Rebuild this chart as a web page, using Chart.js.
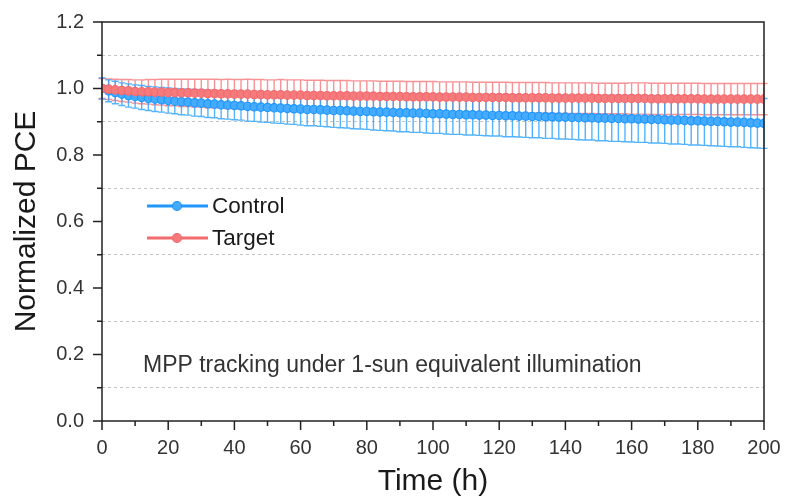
<!DOCTYPE html>
<html>
<head>
<meta charset="utf-8">
<script src="https://cdn.jsdelivr.net/npm/chart.js@4"></script>
<style>
  html, body { margin: 0; padding: 0; background: #fff; }
  #wrap { width: 787px; height: 501px; }
</style>
</head>
<body>
<div id="wrap"><canvas id="c" width="787" height="501"></canvas></div>
<script>
// MPP tracking, normalized PCE vs time — Control vs Target, with error bars.
const TIME = [];
for (let t = 0; t <= 200; t += 2) TIME.push(t);

const CONTROL = [
  1.000, 0.993, 0.988, 0.983, 0.979, 0.976, 0.973, 0.970, 0.968, 0.966,
  0.964, 0.962, 0.960, 0.959, 0.957, 0.956, 0.954, 0.953, 0.951, 0.950,
  0.949, 0.948, 0.946, 0.945, 0.944, 0.943, 0.942, 0.941, 0.940, 0.939,
  0.938, 0.937, 0.937, 0.936, 0.935, 0.934, 0.934, 0.933, 0.932, 0.931,
  0.931, 0.930, 0.929, 0.929, 0.928, 0.927, 0.927, 0.926, 0.926, 0.925,
  0.924, 0.924, 0.923, 0.922, 0.922, 0.921, 0.921, 0.920, 0.920, 0.919,
  0.919, 0.918, 0.918, 0.917, 0.917, 0.916, 0.916, 0.915, 0.915, 0.914,
  0.914, 0.913, 0.913, 0.912, 0.912, 0.911, 0.911, 0.910, 0.910, 0.909,
  0.909, 0.908, 0.908, 0.907, 0.907, 0.906, 0.905, 0.905, 0.904, 0.903,
  0.903, 0.902, 0.901, 0.901, 0.900, 0.899, 0.899, 0.898, 0.897, 0.896,
  0.895
];
const CONTROL_ERR = [
  0.032, 0.033, 0.034, 0.034, 0.035, 0.035, 0.036, 0.036, 0.037, 0.037,
  0.038, 0.038, 0.039, 0.039, 0.040, 0.040, 0.041, 0.041, 0.042, 0.042,
  0.043, 0.043, 0.044, 0.044, 0.045, 0.045, 0.046, 0.046, 0.047, 0.047,
  0.048, 0.049, 0.049, 0.050, 0.050, 0.051, 0.052, 0.052, 0.053, 0.053,
  0.054, 0.055, 0.055, 0.056, 0.056, 0.057, 0.057, 0.058, 0.058, 0.059,
  0.059, 0.059, 0.060, 0.060, 0.060, 0.061, 0.061, 0.061, 0.062, 0.062,
  0.062, 0.063, 0.063, 0.063, 0.064, 0.064, 0.064, 0.065, 0.065, 0.066,
  0.066, 0.066, 0.067, 0.067, 0.067, 0.068, 0.068, 0.069, 0.069, 0.069,
  0.070, 0.070, 0.070, 0.071, 0.071, 0.071, 0.072, 0.072, 0.072, 0.073,
  0.073, 0.073, 0.073, 0.074, 0.074, 0.074, 0.074, 0.075, 0.075, 0.075,
  0.075
];
const TARGET = [
  1.000, 0.998, 0.996, 0.994, 0.993, 0.991, 0.990, 0.990, 0.989, 0.989,
  0.988, 0.988, 0.987, 0.987, 0.986, 0.986, 0.985, 0.985, 0.984, 0.984,
  0.983, 0.983, 0.983, 0.982, 0.982, 0.981, 0.981, 0.981, 0.980, 0.980,
  0.980, 0.979, 0.979, 0.979, 0.978, 0.978, 0.978, 0.978, 0.977, 0.977,
  0.977, 0.977, 0.976, 0.976, 0.976, 0.976, 0.975, 0.975, 0.975, 0.975,
  0.975, 0.974, 0.974, 0.974, 0.974, 0.974, 0.973, 0.973, 0.973, 0.973,
  0.973, 0.973, 0.972, 0.972, 0.972, 0.972, 0.972, 0.972, 0.971, 0.971,
  0.971, 0.971, 0.971, 0.971, 0.971, 0.970, 0.970, 0.970, 0.970, 0.970,
  0.970, 0.970, 0.970, 0.969, 0.969, 0.969, 0.969, 0.969, 0.969, 0.969,
  0.969, 0.968, 0.968, 0.968, 0.968, 0.968, 0.968, 0.968, 0.968, 0.968,
  0.968
];
const TARGET_ERR = [
  0.030, 0.031, 0.032, 0.033, 0.034, 0.035, 0.036, 0.037, 0.038, 0.039,
  0.040, 0.040, 0.041, 0.041, 0.042, 0.042, 0.043, 0.043, 0.043, 0.044,
  0.044, 0.044, 0.045, 0.045, 0.045, 0.045, 0.045, 0.046, 0.046, 0.046,
  0.046, 0.046, 0.046, 0.046, 0.046, 0.046, 0.046, 0.046, 0.046, 0.046,
  0.046, 0.046, 0.046, 0.046, 0.046, 0.046, 0.046, 0.046, 0.046, 0.046,
  0.046, 0.046, 0.046, 0.046, 0.046, 0.046, 0.046, 0.046, 0.046, 0.046,
  0.046, 0.046, 0.046, 0.046, 0.046, 0.046, 0.046, 0.046, 0.046, 0.046,
  0.046, 0.046, 0.046, 0.046, 0.046, 0.046, 0.046, 0.046, 0.046, 0.046,
  0.047, 0.047, 0.047, 0.047, 0.047, 0.047, 0.047, 0.047, 0.047, 0.047,
  0.047, 0.047, 0.047, 0.047, 0.047, 0.047, 0.047, 0.047, 0.047, 0.047,
  0.047
];

const NOTE = "MPP tracking under 1-sun equivalent illumination";
const BLUE = "#1f97ff", BLUE_FILL = "#45abff", BLUE_ERR = "rgba(40,160,255,0.8)";
const RED = "#f46b6e", RED_FILL = "#f57a7c", RED_ERR = "rgba(244,110,115,0.75)";
const FONT = "'Liberation Sans', Arial, sans-serif";
const CLEAR = "rgba(0,0,0,0)";

const pts = (ys) => TIME.map((t, i) => ({ x: t, y: ys[i] }));

// ---------- plugins ----------
const errorBars = {
  id: "errorBars",
  beforeDatasetsDraw(chart) {
    const { ctx, scales: { x, y } } = chart;
    const sets = [[TARGET, TARGET_ERR, RED_ERR], [CONTROL, CONTROL_ERR, BLUE_ERR]];
    ctx.save();
    ctx.lineWidth = 1.4;
    sets.forEach(([mean, err, col]) => {
      ctx.strokeStyle = col;
      ctx.beginPath();
      TIME.forEach((t, i) => {
        const px = x.getPixelForValue(t);
        const top = y.getPixelForValue(mean[i] + err[i]);
        const bot = y.getPixelForValue(mean[i] - err[i]);
        ctx.moveTo(px, top); ctx.lineTo(px, bot);
        ctx.moveTo(px - 3.5, top); ctx.lineTo(px + 3.5, top);
        ctx.moveTo(px - 3.5, bot); ctx.lineTo(px + 3.5, bot);
      });
      ctx.stroke();
    });
    ctx.restore();
  }
};

const frame = {
  id: "frame",
  afterDraw(chart) {
    const { ctx, chartArea: a, scales: { x, y } } = chart;
    ctx.save();
    ctx.strokeStyle = "#222";
    ctx.lineWidth = 1.5;
    ctx.strokeRect(a.left, a.top, a.right - a.left, a.bottom - a.top);
    ctx.beginPath();
    // y ticks: major every 0.2, minor in between
    y.ticks.forEach((tk) => {
      const py = y.getPixelForValue(tk.value);
      const major = Math.round(tk.value * 10) % 2 === 0;
      ctx.moveTo(a.left, py); ctx.lineTo(a.left - (major ? 9 : 5), py);
    });
    // x ticks: major at labels, minor at midpoints
    x.ticks.forEach((tk, i) => {
      const px = x.getPixelForValue(tk.value);
      ctx.moveTo(px, a.bottom); ctx.lineTo(px, a.bottom + 9);
      if (i < x.ticks.length - 1) {
        const mx = x.getPixelForValue((tk.value + x.ticks[i + 1].value) / 2);
        ctx.moveTo(mx, a.bottom); ctx.lineTo(mx, a.bottom + 5);
      }
    });
    ctx.stroke();

    // legend
    chart.data.datasets.forEach((ds, i) => {
      const ly = 206 + i * 32;
      ctx.strokeStyle = ds.borderColor;
      ctx.lineWidth = 3;
      ctx.beginPath(); ctx.moveTo(147, ly); ctx.lineTo(208, ly); ctx.stroke();
      ctx.fillStyle = ds.pointBackgroundColor;
      ctx.strokeStyle = ds.pointBorderColor;
      ctx.lineWidth = 1.2;
      ctx.beginPath(); ctx.arc(177, ly, 4.5, 0, Math.PI * 2); ctx.fill(); ctx.stroke();
      ctx.fillStyle = "#1a1a1a";
      ctx.font = "22.5px " + FONT;
      ctx.textBaseline = "middle";
      ctx.fillText(ds.label, 212, ly + 1);
    });

    // note
    ctx.fillStyle = "#333";
    ctx.font = "23px " + FONT;
    ctx.textBaseline = "middle";
    ctx.fillText(NOTE, 143, 366);
    ctx.restore();
  }
};

// ---------- chart ----------
new Chart(document.getElementById("c"), {
  type: "line",
  data: {
    datasets: [
      { label: "Control", data: pts(CONTROL), order: 1,
        borderColor: BLUE, borderWidth: 2, pointRadius: 4.2, pointBorderWidth: 1.2,
        pointBackgroundColor: BLUE_FILL, pointBorderColor: BLUE, fill: false },
      { label: "Target", data: pts(TARGET), order: 0,
        borderColor: RED, borderWidth: 2, pointRadius: 4.2, pointBorderWidth: 1.2,
        pointBackgroundColor: RED_FILL, pointBorderColor: RED, fill: false },
    ],
  },
  options: {
    responsive: false,
    animation: false,
    layout: { padding: { left: 0, right: 23, top: 22, bottom: 0 } },
    plugins: { legend: { display: false }, tooltip: { enabled: false } },
    scales: {
      x: {
        type: "linear", min: 0, max: 200,
        afterFit: (s) => { s.height = 80; },
        ticks: { stepSize: 20, padding: 6, color: "#333", font: { family: FONT, size: 20 } },
        grid: { color: CLEAR, drawOnChartArea: false, drawTicks: true, tickLength: 9, tickColor: CLEAR },
        border: { display: false },
        title: { display: true, text: "Time (h)", color: "#1a1a1a", padding: { top: 0, bottom: 1 },
                 font: { family: FONT, size: 30 } },
      },
      y: {
        min: 0, max: 1.2,
        afterFit: (s) => { s.width = 102; },
        ticks: {
          stepSize: 0.1, padding: 9, color: "#333", font: { family: FONT, size: 20 },
          callback: (v) => (Math.round(v * 10) % 2 === 0 ? v.toFixed(1) : ""),
        },
        grid: {
          drawTicks: true, tickLength: 9, tickColor: CLEAR,
          lineWidth: 1,
          color: (c) => (c.tick && Math.round(c.tick.value * 10) % 2 === 1 ? "#c4c4c4" : CLEAR),
        },
        border: { display: false, dash: [3, 3] },
        title: { display: true, text: "Normalized PCE", color: "#1a1a1a", padding: { top: 9, bottom: 0 },
                 font: { family: FONT, size: 30 } },
      },
    },
  },
  plugins: [errorBars, frame],
});
</script>
</body>
</html>
